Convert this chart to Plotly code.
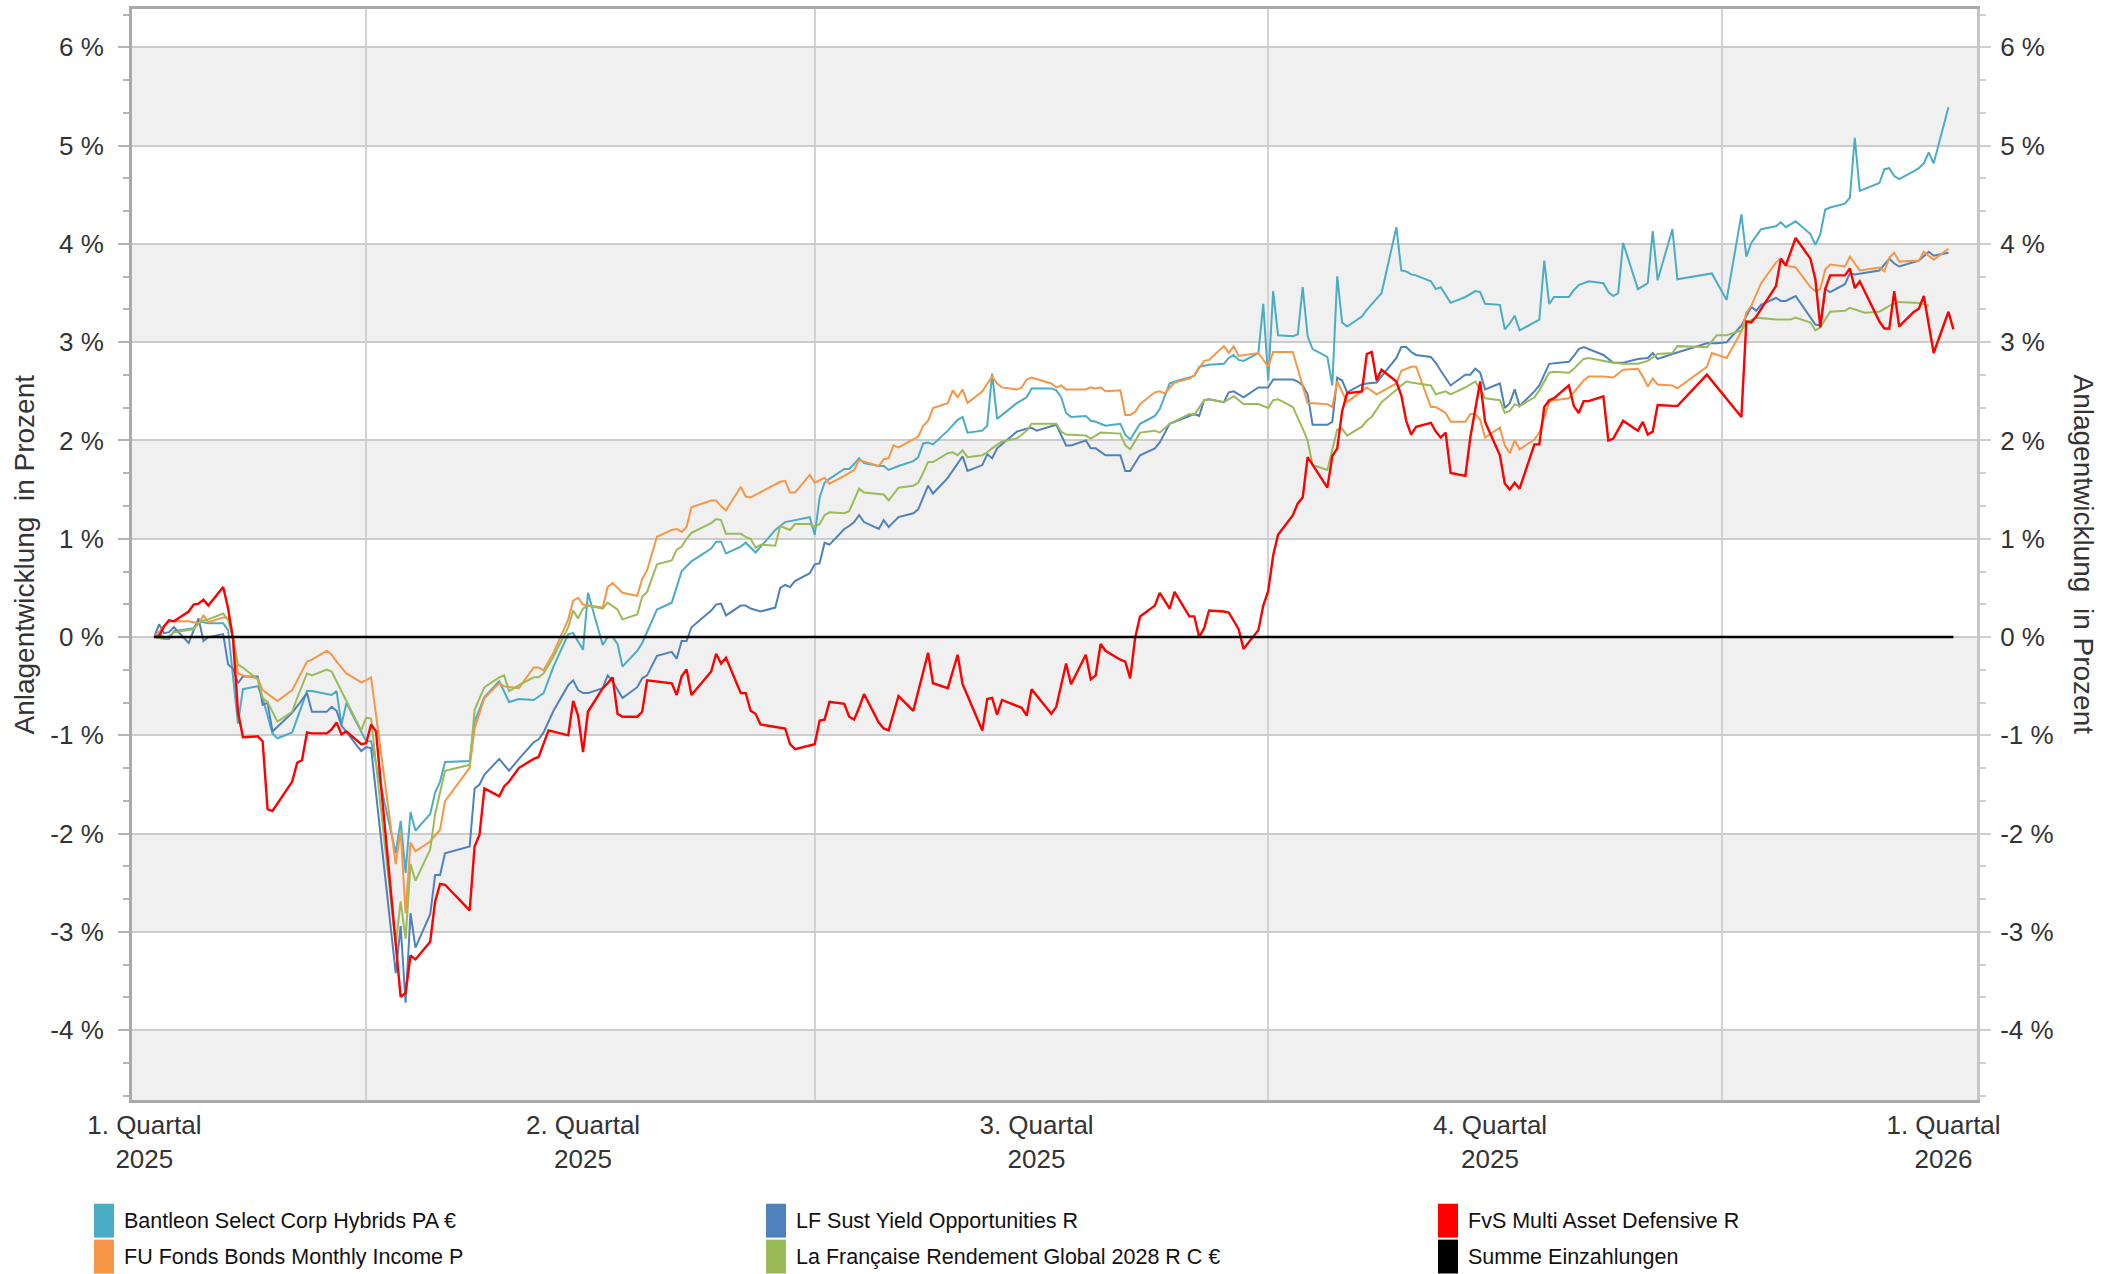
import plotly.graph_objects as go

# ---------------------------------------------------------------------------
# Performance since start (in %), one (date, value) pair per trading day shown
# ---------------------------------------------------------------------------
bantleon = [
    ("2025-02-17", 0.00), ("2025-02-18", 0.04), ("2025-02-19", -0.02), ("2025-02-20", -0.02),
    ("2025-02-21", 0.06), ("2025-02-25", 0.09), ("2025-02-26", 0.16), ("2025-02-27", 0.15),
    ("2025-02-28", 0.14), ("2025-03-03", 0.14), ("2025-03-04", 0.07), ("2025-03-06", -0.88),
    ("2025-03-07", -0.53), ("2025-03-10", -0.50), ("2025-03-11", -0.62), ("2025-03-13", -0.98),
    ("2025-03-14", -1.03), ("2025-03-17", -0.97), ("2025-03-20", -0.55), ("2025-03-21", -0.55),
    ("2025-03-25", -0.59), ("2025-03-26", -0.55), ("2025-03-27", -0.89), ("2025-03-28", -0.67),
    ("2025-03-31", -0.96), ("2025-04-01", -1.06), ("2025-04-02", -1.06), ("2025-04-07", -2.20),
    ("2025-04-08", -1.87), ("2025-04-09", -2.40), ("2025-04-10", -1.78), ("2025-04-11", -1.97),
    ("2025-04-14", -1.80), ("2025-04-15", -1.58), ("2025-04-16", -1.47), ("2025-04-17", -1.27),
    ("2025-04-22", -1.26), ("2025-04-23", -0.86), ("2025-04-25", -0.61), ("2025-04-28", -0.45),
    ("2025-04-30", -0.66), ("2025-05-02", -0.63), ("2025-05-05", -0.64), ("2025-05-07", -0.57),
    ("2025-05-09", -0.30), ("2025-05-12", 0.03), ("2025-05-13", 0.04), ("2025-05-15", -0.13),
    ("2025-05-16", 0.45), ("2025-05-19", -0.08), ("2025-05-20", 0.00), ("2025-05-21", 0.00),
    ("2025-05-22", -0.07), ("2025-05-23", -0.30), ("2025-05-26", -0.14), ("2025-05-27", -0.06),
    ("2025-05-30", 0.28), ("2025-06-02", 0.35), ("2025-06-04", 0.67), ("2025-06-06", 0.77),
    ("2025-06-10", 0.90), ("2025-06-11", 0.97), ("2025-06-12", 0.97), ("2025-06-13", 0.85),
    ("2025-06-16", 0.92), ("2025-06-17", 0.96), ("2025-06-19", 0.86), ("2025-06-20", 0.92),
    ("2025-06-23", 1.09), ("2025-06-25", 1.17), ("2025-06-27", 1.19), ("2025-06-30", 1.22),
    ("2025-07-01", 1.04), ("2025-07-02", 1.42), ("2025-07-03", 1.57), ("2025-07-04", 1.61),
    ("2025-07-07", 1.71), ("2025-07-08", 1.71), ("2025-07-09", 1.76), ("2025-07-10", 1.82),
    ("2025-07-11", 1.77), ("2025-07-14", 1.74), ("2025-07-15", 1.74), ("2025-07-16", 1.70),
    ("2025-07-18", 1.74), ("2025-07-21", 1.79), ("2025-07-22", 1.83), ("2025-07-23", 1.97),
    ("2025-07-24", 1.98), ("2025-07-25", 1.96), ("2025-07-28", 2.10), ("2025-07-30", 2.21),
    ("2025-07-31", 2.24), ("2025-08-01", 2.08), ("2025-08-04", 2.10), ("2025-08-05", 2.15),
    ("2025-08-06", 2.68), ("2025-08-07", 2.22), ("2025-08-11", 2.38), ("2025-08-13", 2.44),
    ("2025-08-14", 2.53), ("2025-08-18", 2.53), ("2025-08-19", 2.51), ("2025-08-20", 2.44),
    ("2025-08-21", 2.28), ("2025-08-22", 2.24), ("2025-08-25", 2.25), ("2025-08-26", 2.20),
    ("2025-08-27", 2.19), ("2025-08-28", 2.17), ("2025-08-29", 2.15), ("2025-09-01", 2.17),
    ("2025-09-02", 2.06), ("2025-09-03", 2.01), ("2025-09-05", 2.17), ("2025-09-08", 2.25),
    ("2025-09-09", 2.32), ("2025-09-11", 2.58), ("2025-09-12", 2.60), ("2025-09-15", 2.64),
    ("2025-09-16", 2.66), ("2025-09-17", 2.75), ("2025-09-19", 2.77), ("2025-09-22", 2.78),
    ("2025-09-23", 2.84), ("2025-09-24", 2.87), ("2025-09-25", 2.82), ("2025-09-26", 2.81),
    ("2025-09-29", 2.89), ("2025-09-30", 3.39), ("2025-10-01", 2.61), ("2025-10-02", 3.52),
    ("2025-10-03", 3.07), ("2025-10-06", 3.06), ("2025-10-07", 3.08), ("2025-10-08", 3.56),
    ("2025-10-09", 3.06), ("2025-10-10", 2.93), ("2025-10-13", 2.85), ("2025-10-14", 2.56),
    ("2025-10-15", 3.67), ("2025-10-16", 3.20), ("2025-10-17", 3.16), ("2025-10-20", 3.26),
    ("2025-10-21", 3.33), ("2025-10-24", 3.50), ("2025-10-27", 4.17), ("2025-10-28", 3.73),
    ("2025-10-29", 3.72), ("2025-10-30", 3.69), ("2025-10-31", 3.68), ("2025-11-03", 3.62),
    ("2025-11-04", 3.54), ("2025-11-05", 3.56), ("2025-11-07", 3.40), ("2025-11-10", 3.46),
    ("2025-11-11", 3.49), ("2025-11-12", 3.52), ("2025-11-13", 3.51), ("2025-11-14", 3.39),
    ("2025-11-17", 3.38), ("2025-11-18", 3.13), ("2025-11-19", 3.19), ("2025-11-20", 3.27),
    ("2025-11-21", 3.12), ("2025-11-25", 3.23), ("2025-11-26", 3.83), ("2025-11-27", 3.39),
    ("2025-11-28", 3.46), ("2025-12-01", 3.46), ("2025-12-02", 3.53), ("2025-12-03", 3.58),
    ("2025-12-05", 3.62), ("2025-12-08", 3.60), ("2025-12-09", 3.51), ("2025-12-10", 3.47),
    ("2025-12-11", 3.50), ("2025-12-12", 4.01), ("2025-12-15", 3.54), ("2025-12-17", 3.60),
    ("2025-12-18", 4.13), ("2025-12-19", 3.63), ("2025-12-22", 4.15), ("2025-12-23", 3.64),
    ("2025-12-30", 3.70), ("2026-01-02", 3.43), ("2026-01-05", 4.30), ("2026-01-06", 3.87),
    ("2026-01-07", 4.01), ("2026-01-09", 4.15), ("2026-01-12", 4.18), ("2026-01-13", 4.22),
    ("2026-01-14", 4.17), ("2026-01-16", 4.23), ("2026-01-19", 4.10), ("2026-01-20", 3.99),
    ("2026-01-21", 4.10), ("2026-01-22", 4.35), ("2026-01-23", 4.37), ("2026-01-26", 4.41),
    ("2026-01-27", 4.47), ("2026-01-28", 5.08), ("2026-01-29", 4.54), ("2026-02-02", 4.62),
    ("2026-02-03", 4.76), ("2026-02-04", 4.77), ("2026-02-05", 4.69), ("2026-02-06", 4.66),
    ("2026-02-09", 4.74), ("2026-02-10", 4.77), ("2026-02-11", 4.82), ("2026-02-12", 4.93),
    ("2026-02-13", 4.82), ("2026-02-16", 5.39),
]

lf_sust = [
    ("2025-02-17", 0.00), ("2025-02-18", 0.13), ("2025-02-19", 0.04), ("2025-02-20", 0.05),
    ("2025-02-21", 0.10), ("2025-02-24", -0.06), ("2025-02-26", 0.19), ("2025-02-27", -0.04),
    ("2025-02-28", 0.00), ("2025-03-03", 0.03), ("2025-03-04", -0.28), ("2025-03-05", -0.32),
    ("2025-03-06", -0.47), ("2025-03-07", -0.40), ("2025-03-10", -0.40), ("2025-03-11", -0.69),
    ("2025-03-12", -0.67), ("2025-03-13", -0.96), ("2025-03-17", -0.77), ("2025-03-20", -0.57),
    ("2025-03-21", -0.76), ("2025-03-24", -0.76), ("2025-03-25", -0.71), ("2025-03-26", -0.75),
    ("2025-03-27", -0.90), ("2025-03-31", -1.16), ("2025-04-01", -1.12), ("2025-04-02", -1.13),
    ("2025-04-07", -3.42), ("2025-04-08", -2.94), ("2025-04-09", -3.72), ("2025-04-10", -2.81),
    ("2025-04-11", -3.16), ("2025-04-14", -2.82), ("2025-04-15", -2.42), ("2025-04-16", -2.42),
    ("2025-04-17", -2.20), ("2025-04-22", -2.13), ("2025-04-23", -1.54), ("2025-04-24", -1.50),
    ("2025-04-25", -1.40), ("2025-04-28", -1.24), ("2025-04-29", -1.30), ("2025-04-30", -1.36),
    ("2025-05-02", -1.24), ("2025-05-05", -1.07), ("2025-05-06", -1.04), ("2025-05-07", -0.97),
    ("2025-05-09", -0.75), ("2025-05-12", -0.49), ("2025-05-13", -0.44), ("2025-05-14", -0.54),
    ("2025-05-15", -0.57), ("2025-05-16", -0.57), ("2025-05-19", -0.52), ("2025-05-20", -0.39),
    ("2025-05-21", -0.45), ("2025-05-23", -0.62), ("2025-05-26", -0.51), ("2025-05-27", -0.42),
    ("2025-05-28", -0.39), ("2025-05-30", -0.19), ("2025-06-02", -0.15), ("2025-06-03", -0.22),
    ("2025-06-04", -0.04), ("2025-06-05", -0.04), ("2025-06-06", 0.10), ("2025-06-10", 0.27),
    ("2025-06-11", 0.33), ("2025-06-12", 0.34), ("2025-06-13", 0.22), ("2025-06-16", 0.32),
    ("2025-06-17", 0.32), ("2025-06-18", 0.29), ("2025-06-20", 0.26), ("2025-06-23", 0.30),
    ("2025-06-24", 0.50), ("2025-06-25", 0.53), ("2025-06-26", 0.51), ("2025-06-27", 0.57),
    ("2025-06-30", 0.65), ("2025-07-01", 0.74), ("2025-07-02", 0.75), ("2025-07-03", 0.96),
    ("2025-07-04", 0.94), ("2025-07-07", 1.10), ("2025-07-08", 1.13), ("2025-07-09", 1.17),
    ("2025-07-10", 1.24), ("2025-07-11", 1.17), ("2025-07-14", 1.10), ("2025-07-15", 1.19),
    ("2025-07-16", 1.12), ("2025-07-18", 1.22), ("2025-07-21", 1.26), ("2025-07-22", 1.30),
    ("2025-07-24", 1.54), ("2025-07-25", 1.46), ("2025-07-28", 1.62), ("2025-07-31", 1.84),
    ("2025-08-01", 1.69), ("2025-08-04", 1.75), ("2025-08-05", 1.86), ("2025-08-06", 1.82),
    ("2025-08-07", 1.92), ("2025-08-11", 2.09), ("2025-08-13", 2.12), ("2025-08-14", 2.13),
    ("2025-08-15", 2.10), ("2025-08-19", 2.16), ("2025-08-21", 1.95), ("2025-08-22", 1.95),
    ("2025-08-25", 2.00), ("2025-08-26", 1.92), ("2025-08-27", 1.92), ("2025-08-29", 1.85),
    ("2025-09-01", 1.85), ("2025-09-02", 1.69), ("2025-09-03", 1.69), ("2025-09-05", 1.85),
    ("2025-09-08", 1.92), ("2025-09-09", 1.98), ("2025-09-11", 2.17), ("2025-09-12", 2.19),
    ("2025-09-16", 2.27), ("2025-09-17", 2.25), ("2025-09-18", 2.41), ("2025-09-19", 2.42),
    ("2025-09-22", 2.39), ("2025-09-23", 2.49), ("2025-09-24", 2.50), ("2025-09-26", 2.44),
    ("2025-09-29", 2.54), ("2025-10-01", 2.54), ("2025-10-02", 2.62), ("2025-10-06", 2.62),
    ("2025-10-07", 2.60), ("2025-10-08", 2.56), ("2025-10-09", 2.47), ("2025-10-10", 2.16),
    ("2025-10-13", 2.16), ("2025-10-14", 2.19), ("2025-10-15", 2.64), ("2025-10-16", 2.61),
    ("2025-10-17", 2.49), ("2025-10-20", 2.57), ("2025-10-21", 2.58), ("2025-10-23", 2.59),
    ("2025-10-27", 2.84), ("2025-10-28", 2.95), ("2025-10-29", 2.95), ("2025-10-30", 2.90),
    ("2025-10-31", 2.87), ("2025-11-03", 2.85), ("2025-11-04", 2.79), ("2025-11-05", 2.71),
    ("2025-11-07", 2.56), ("2025-11-10", 2.67), ("2025-11-11", 2.67), ("2025-11-12", 2.73),
    ("2025-11-13", 2.69), ("2025-11-14", 2.52), ("2025-11-17", 2.58), ("2025-11-18", 2.33),
    ("2025-11-19", 2.38), ("2025-11-20", 2.52), ("2025-11-21", 2.35), ("2025-11-24", 2.50),
    ("2025-11-25", 2.56), ("2025-11-27", 2.78), ("2025-12-01", 2.80), ("2025-12-02", 2.86),
    ("2025-12-03", 2.93), ("2025-12-04", 2.95), ("2025-12-08", 2.87), ("2025-12-10", 2.79),
    ("2025-12-12", 2.79), ("2025-12-15", 2.83), ("2025-12-17", 2.84), ("2025-12-18", 2.89),
    ("2025-12-19", 2.83), ("2025-12-22", 2.88), ("2025-12-29", 2.99), ("2025-12-31", 2.99),
    ("2026-01-02", 3.00), ("2026-01-05", 3.17), ("2026-01-07", 3.36), ("2026-01-08", 3.32),
    ("2026-01-09", 3.38), ("2026-01-12", 3.45), ("2026-01-13", 3.42), ("2026-01-14", 3.42),
    ("2026-01-16", 3.47), ("2026-01-20", 3.18), ("2026-01-21", 3.17), ("2026-01-22", 3.54),
    ("2026-01-23", 3.51), ("2026-01-26", 3.59), ("2026-01-27", 3.70), ("2026-01-28", 3.69),
    ("2026-02-02", 3.73), ("2026-02-04", 3.85), ("2026-02-05", 3.80), ("2026-02-06", 3.77),
    ("2026-02-10", 3.83), ("2026-02-12", 3.92), ("2026-02-13", 3.88), ("2026-02-16", 3.91),
]

fvs_defensive = [
    ("2025-02-17", 0.00), ("2025-02-18", 0.01), ("2025-02-19", 0.11), ("2025-02-20", 0.17),
    ("2025-02-21", 0.16), ("2025-02-24", 0.26), ("2025-02-25", 0.33), ("2025-02-26", 0.34),
    ("2025-02-27", 0.38), ("2025-02-28", 0.32), ("2025-03-03", 0.51), ("2025-03-04", 0.29),
    ("2025-03-05", -0.02), ("2025-03-06", -0.76), ("2025-03-07", -1.02), ("2025-03-10", -1.01),
    ("2025-03-11", -1.06), ("2025-03-12", -1.75), ("2025-03-13", -1.77), ("2025-03-17", -1.47),
    ("2025-03-18", -1.28), ("2025-03-19", -1.25), ("2025-03-20", -0.97), ("2025-03-21", -0.98),
    ("2025-03-24", -0.98), ("2025-03-25", -0.94), ("2025-03-26", -0.87), ("2025-03-27", -0.99),
    ("2025-03-28", -0.96), ("2025-03-31", -1.09), ("2025-04-01", -1.08), ("2025-04-02", -0.89),
    ("2025-04-03", -0.96), ("2025-04-08", -3.66), ("2025-04-09", -3.62), ("2025-04-10", -3.24),
    ("2025-04-11", -3.28), ("2025-04-14", -3.10), ("2025-04-15", -2.69), ("2025-04-16", -2.51),
    ("2025-04-17", -2.52), ("2025-04-22", -2.78), ("2025-04-23", -2.13), ("2025-04-24", -2.01),
    ("2025-04-25", -1.54), ("2025-04-28", -1.62), ("2025-04-29", -1.52), ("2025-04-30", -1.47),
    ("2025-05-02", -1.33), ("2025-05-05", -1.24), ("2025-05-06", -1.22), ("2025-05-08", -0.95),
    ("2025-05-12", -1.00), ("2025-05-13", -0.65), ("2025-05-14", -0.80), ("2025-05-15", -1.17),
    ("2025-05-16", -0.76), ("2025-05-19", -0.52), ("2025-05-20", -0.47), ("2025-05-21", -0.41),
    ("2025-05-22", -0.78), ("2025-05-23", -0.81), ("2025-05-26", -0.81), ("2025-05-27", -0.76),
    ("2025-05-28", -0.44), ("2025-06-02", -0.47), ("2025-06-03", -0.59), ("2025-06-04", -0.40),
    ("2025-06-05", -0.33), ("2025-06-06", -0.59), ("2025-06-10", -0.35), ("2025-06-11", -0.17),
    ("2025-06-12", -0.27), ("2025-06-13", -0.21), ("2025-06-16", -0.57), ("2025-06-17", -0.57),
    ("2025-06-18", -0.75), ("2025-06-19", -0.78), ("2025-06-20", -0.89), ("2025-06-25", -0.93),
    ("2025-06-26", -1.09), ("2025-06-27", -1.14), ("2025-07-01", -1.09), ("2025-07-02", -0.85),
    ("2025-07-03", -0.84), ("2025-07-04", -0.66), ("2025-07-07", -0.68), ("2025-07-08", -0.81),
    ("2025-07-09", -0.84), ("2025-07-10", -0.72), ("2025-07-11", -0.58), ("2025-07-14", -0.87),
    ("2025-07-15", -0.93), ("2025-07-16", -0.95), ("2025-07-18", -0.60), ("2025-07-21", -0.75),
    ("2025-07-24", -0.16), ("2025-07-25", -0.47), ("2025-07-28", -0.52), ("2025-07-30", -0.18),
    ("2025-07-31", -0.48), ("2025-08-04", -0.95), ("2025-08-05", -0.63), ("2025-08-06", -0.62),
    ("2025-08-07", -0.79), ("2025-08-08", -0.64), ("2025-08-12", -0.72), ("2025-08-13", -0.80),
    ("2025-08-14", -0.53), ("2025-08-18", -0.78), ("2025-08-19", -0.71), ("2025-08-21", -0.27),
    ("2025-08-22", -0.48), ("2025-08-25", -0.18), ("2025-08-26", -0.43), ("2025-08-27", -0.39),
    ("2025-08-28", -0.07), ("2025-08-29", -0.14), ("2025-09-01", -0.23), ("2025-09-02", -0.25),
    ("2025-09-03", -0.42), ("2025-09-04", -0.01), ("2025-09-05", 0.21), ("2025-09-08", 0.32),
    ("2025-09-09", 0.45), ("2025-09-11", 0.29), ("2025-09-12", 0.46), ("2025-09-15", 0.21),
    ("2025-09-16", 0.21), ("2025-09-17", 0.00), ("2025-09-18", 0.09), ("2025-09-19", 0.27),
    ("2025-09-22", 0.26), ("2025-09-23", 0.25), ("2025-09-25", 0.08), ("2025-09-26", -0.12),
    ("2025-09-29", 0.07), ("2025-09-30", 0.32), ("2025-10-01", 0.47), ("2025-10-02", 0.83),
    ("2025-10-03", 1.04), ("2025-10-06", 1.24), ("2025-10-07", 1.36), ("2025-10-08", 1.42),
    ("2025-10-09", 1.83), ("2025-10-13", 1.52), ("2025-10-14", 1.84), ("2025-10-15", 1.92),
    ("2025-10-16", 2.30), ("2025-10-17", 2.48), ("2025-10-20", 2.50), ("2025-10-21", 2.88),
    ("2025-10-22", 2.90), ("2025-10-23", 2.61), ("2025-10-24", 2.72), ("2025-10-27", 2.60),
    ("2025-10-28", 2.46), ("2025-10-29", 2.20), ("2025-10-30", 2.06), ("2025-10-31", 2.14),
    ("2025-11-03", 2.18), ("2025-11-04", 2.09), ("2025-11-05", 2.03), ("2025-11-06", 2.08),
    ("2025-11-07", 1.67), ("2025-11-10", 1.64), ("2025-11-11", 2.03), ("2025-11-13", 2.60),
    ("2025-11-14", 2.19), ("2025-11-17", 1.85), ("2025-11-18", 1.56), ("2025-11-19", 1.50),
    ("2025-11-20", 1.57), ("2025-11-21", 1.51), ("2025-11-24", 1.96), ("2025-11-25", 1.96),
    ("2025-11-26", 2.34), ("2025-11-27", 2.41), ("2025-11-28", 2.43), ("2025-12-01", 2.56),
    ("2025-12-02", 2.35), ("2025-12-03", 2.28), ("2025-12-04", 2.40), ("2025-12-05", 2.40),
    ("2025-12-08", 2.45), ("2025-12-09", 2.00), ("2025-12-10", 2.02), ("2025-12-12", 2.20),
    ("2025-12-15", 2.10), ("2025-12-16", 2.19), ("2025-12-17", 2.06), ("2025-12-18", 2.09),
    ("2025-12-19", 2.36), ("2025-12-23", 2.35), ("2025-12-29", 2.67), ("2026-01-05", 2.24),
    ("2026-01-06", 3.21), ("2026-01-07", 3.20), ("2026-01-08", 3.26), ("2026-01-12", 3.57),
    ("2026-01-13", 3.85), ("2026-01-14", 3.78), ("2026-01-16", 4.06), ("2026-01-19", 3.85),
    ("2026-01-20", 3.64), ("2026-01-21", 3.15), ("2026-01-22", 3.54), ("2026-01-23", 3.68),
    ("2026-01-26", 3.68), ("2026-01-27", 3.75), ("2026-01-28", 3.55), ("2026-01-29", 3.62),
    ("2026-02-02", 3.21), ("2026-02-03", 3.14), ("2026-02-04", 3.14), ("2026-02-05", 3.52),
    ("2026-02-06", 3.16), ("2026-02-09", 3.31), ("2026-02-10", 3.34), ("2026-02-11", 3.47),
    ("2026-02-13", 2.89), ("2026-02-16", 3.31), ("2026-02-17", 3.13),
]

fu_fonds = [
    ("2025-02-17", 0.00), ("2025-02-18", 0.05), ("2025-02-19", 0.11), ("2025-02-20", 0.16),
    ("2025-02-24", 0.16), ("2025-02-25", 0.15), ("2025-02-26", 0.14), ("2025-02-27", 0.22),
    ("2025-02-28", 0.15), ("2025-03-03", 0.20), ("2025-03-04", 0.20), ("2025-03-05", 0.00),
    ("2025-03-06", -0.37), ("2025-03-07", -0.39), ("2025-03-10", -0.42), ("2025-03-11", -0.54),
    ("2025-03-14", -0.65), ("2025-03-17", -0.54), ("2025-03-18", -0.44), ("2025-03-20", -0.25),
    ("2025-03-21", -0.23), ("2025-03-24", -0.14), ("2025-03-25", -0.18), ("2025-03-26", -0.25),
    ("2025-03-28", -0.37), ("2025-03-31", -0.46), ("2025-04-01", -0.44), ("2025-04-02", -0.41),
    ("2025-04-07", -2.31), ("2025-04-08", -1.97), ("2025-04-09", -2.81), ("2025-04-10", -2.09),
    ("2025-04-11", -2.18), ("2025-04-14", -2.08), ("2025-04-16", -1.96), ("2025-04-17", -1.67),
    ("2025-04-22", -1.33), ("2025-04-23", -0.93), ("2025-04-25", -0.62), ("2025-04-28", -0.47),
    ("2025-04-29", -0.50), ("2025-05-02", -0.52), ("2025-05-05", -0.31), ("2025-05-06", -0.31),
    ("2025-05-07", -0.34), ("2025-05-09", -0.16), ("2025-05-12", 0.18), ("2025-05-13", 0.37),
    ("2025-05-14", 0.40), ("2025-05-15", 0.33), ("2025-05-19", 0.30), ("2025-05-20", 0.51),
    ("2025-05-21", 0.55), ("2025-05-23", 0.45), ("2025-05-26", 0.42), ("2025-05-27", 0.59),
    ("2025-05-28", 0.68), ("2025-05-30", 1.02), ("2025-06-02", 1.09), ("2025-06-03", 1.10),
    ("2025-06-04", 1.07), ("2025-06-05", 1.12), ("2025-06-06", 1.32), ("2025-06-10", 1.39),
    ("2025-06-11", 1.39), ("2025-06-12", 1.33), ("2025-06-13", 1.29), ("2025-06-16", 1.53),
    ("2025-06-17", 1.43), ("2025-06-18", 1.42), ("2025-06-24", 1.58), ("2025-06-25", 1.59),
    ("2025-06-26", 1.47), ("2025-06-27", 1.47), ("2025-06-30", 1.65), ("2025-07-01", 1.57),
    ("2025-07-03", 1.62), ("2025-07-04", 1.56), ("2025-07-07", 1.64), ("2025-07-09", 1.70),
    ("2025-07-10", 1.80), ("2025-07-14", 1.74), ("2025-07-15", 1.81), ("2025-07-16", 1.82),
    ("2025-07-17", 1.95), ("2025-07-18", 1.93), ("2025-07-21", 2.01), ("2025-07-22", 2.04),
    ("2025-07-23", 2.15), ("2025-07-24", 2.20), ("2025-07-25", 2.33), ("2025-07-28", 2.38),
    ("2025-07-29", 2.51), ("2025-07-30", 2.44), ("2025-07-31", 2.52), ("2025-08-01", 2.38),
    ("2025-08-04", 2.50), ("2025-08-06", 2.65), ("2025-08-07", 2.58), ("2025-08-08", 2.54),
    ("2025-08-11", 2.52), ("2025-08-12", 2.54), ("2025-08-13", 2.62), ("2025-08-14", 2.64),
    ("2025-08-18", 2.58), ("2025-08-19", 2.54), ("2025-08-20", 2.56), ("2025-08-21", 2.52),
    ("2025-08-25", 2.52), ("2025-08-26", 2.54), ("2025-08-27", 2.53), ("2025-08-28", 2.54),
    ("2025-08-29", 2.50), ("2025-09-01", 2.51), ("2025-09-02", 2.26), ("2025-09-03", 2.26),
    ("2025-09-04", 2.29), ("2025-09-05", 2.37), ("2025-09-08", 2.49), ("2025-09-09", 2.50),
    ("2025-09-10", 2.48), ("2025-09-12", 2.59), ("2025-09-15", 2.63), ("2025-09-16", 2.66),
    ("2025-09-18", 2.81), ("2025-09-19", 2.82), ("2025-09-22", 2.96), ("2025-09-23", 2.89),
    ("2025-09-24", 2.96), ("2025-09-25", 2.86), ("2025-09-29", 2.89), ("2025-10-01", 2.75),
    ("2025-10-02", 2.90), ("2025-10-06", 2.90), ("2025-10-09", 2.38), ("2025-10-10", 2.38),
    ("2025-10-13", 2.37), ("2025-10-14", 2.34), ("2025-10-15", 2.60), ("2025-10-17", 2.39),
    ("2025-10-21", 2.54), ("2025-10-23", 2.47), ("2025-10-27", 2.58), ("2025-10-28", 2.71),
    ("2025-10-30", 2.75), ("2025-10-31", 2.75), ("2025-11-03", 2.34), ("2025-11-04", 2.34),
    ("2025-11-06", 2.28), ("2025-11-07", 2.19), ("2025-11-10", 2.19), ("2025-11-11", 2.27),
    ("2025-11-12", 2.27), ("2025-11-13", 2.21), ("2025-11-14", 2.03), ("2025-11-17", 2.13),
    ("2025-11-18", 1.95), ("2025-11-19", 1.87), ("2025-11-20", 2.00), ("2025-11-21", 1.91),
    ("2025-11-24", 2.01), ("2025-11-25", 2.08), ("2025-11-27", 2.39), ("2025-11-28", 2.41),
    ("2025-12-01", 2.43), ("2025-12-02", 2.49), ("2025-12-04", 2.61), ("2025-12-05", 2.65),
    ("2025-12-08", 2.65), ("2025-12-10", 2.64), ("2025-12-12", 2.72), ("2025-12-15", 2.73),
    ("2025-12-16", 2.65), ("2025-12-17", 2.55), ("2025-12-18", 2.63), ("2025-12-19", 2.57),
    ("2025-12-22", 2.56), ("2025-12-23", 2.53), ("2025-12-29", 2.75), ("2025-12-30", 2.89),
    ("2026-01-02", 2.84), ("2026-01-05", 3.11), ("2026-01-06", 3.30), ("2026-01-07", 3.37),
    ("2026-01-09", 3.60), ("2026-01-12", 3.81), ("2026-01-13", 3.85), ("2026-01-14", 3.78),
    ("2026-01-16", 3.76), ("2026-01-19", 3.56), ("2026-01-20", 3.52), ("2026-01-21", 3.54),
    ("2026-01-22", 3.74), ("2026-01-23", 3.79), ("2026-01-26", 3.77), ("2026-01-27", 3.87),
    ("2026-01-29", 3.73), ("2026-02-02", 3.76), ("2026-02-03", 3.72), ("2026-02-04", 3.86),
    ("2026-02-05", 3.91), ("2026-02-06", 3.82), ("2026-02-10", 3.83), ("2026-02-11", 3.92),
    ("2026-02-13", 3.84), ("2026-02-16", 3.95),
]

la_francaise = [
    ("2025-02-17", 0.00), ("2025-02-19", -0.02), ("2025-02-20", 0.01), ("2025-02-21", 0.05),
    ("2025-02-25", 0.08), ("2025-02-26", 0.14), ("2025-02-27", 0.17), ("2025-02-28", 0.18),
    ("2025-03-03", 0.24), ("2025-03-04", 0.17), ("2025-03-05", -0.01), ("2025-03-06", -0.28),
    ("2025-03-07", -0.31), ("2025-03-10", -0.43), ("2025-03-11", -0.62), ("2025-03-12", -0.66),
    ("2025-03-14", -0.86), ("2025-03-17", -0.76), ("2025-03-18", -0.62), ("2025-03-20", -0.37),
    ("2025-03-21", -0.39), ("2025-03-24", -0.33), ("2025-03-25", -0.35), ("2025-03-26", -0.45),
    ("2025-03-28", -0.66), ("2025-03-31", -0.95), ("2025-04-01", -0.82), ("2025-04-02", -0.83),
    ("2025-04-07", -3.13), ("2025-04-08", -2.69), ("2025-04-09", -3.07), ("2025-04-10", -2.31),
    ("2025-04-11", -2.48), ("2025-04-14", -2.16), ("2025-04-15", -1.80), ("2025-04-17", -1.36),
    ("2025-04-22", -1.30), ("2025-04-23", -0.74), ("2025-04-25", -0.51), ("2025-04-28", -0.41),
    ("2025-04-29", -0.39), ("2025-04-30", -0.55), ("2025-05-02", -0.49), ("2025-05-05", -0.41),
    ("2025-05-06", -0.41), ("2025-05-07", -0.37), ("2025-05-09", -0.20), ("2025-05-12", 0.10),
    ("2025-05-13", 0.27), ("2025-05-14", 0.19), ("2025-05-15", 0.29), ("2025-05-16", 0.32),
    ("2025-05-19", 0.29), ("2025-05-20", 0.35), ("2025-05-22", 0.28), ("2025-05-23", 0.18),
    ("2025-05-26", 0.23), ("2025-05-27", 0.41), ("2025-05-28", 0.46), ("2025-05-30", 0.74),
    ("2025-06-02", 0.78), ("2025-06-03", 0.89), ("2025-06-04", 0.92), ("2025-06-05", 1.00),
    ("2025-06-06", 1.06), ("2025-06-10", 1.16), ("2025-06-11", 1.20), ("2025-06-12", 1.19),
    ("2025-06-13", 1.05), ("2025-06-16", 1.05), ("2025-06-17", 1.02), ("2025-06-18", 1.00),
    ("2025-06-19", 0.91), ("2025-06-20", 0.94), ("2025-06-23", 0.93), ("2025-06-24", 1.13),
    ("2025-06-26", 1.09), ("2025-06-27", 1.15), ("2025-06-30", 1.15), ("2025-07-01", 1.12),
    ("2025-07-02", 1.15), ("2025-07-03", 1.24), ("2025-07-04", 1.27), ("2025-07-07", 1.26),
    ("2025-07-08", 1.28), ("2025-07-10", 1.51), ("2025-07-11", 1.47), ("2025-07-14", 1.45),
    ("2025-07-15", 1.45), ("2025-07-16", 1.39), ("2025-07-18", 1.52), ("2025-07-21", 1.54),
    ("2025-07-22", 1.57), ("2025-07-23", 1.67), ("2025-07-24", 1.78), ("2025-07-25", 1.78),
    ("2025-07-28", 1.87), ("2025-07-29", 1.88), ("2025-07-30", 1.85), ("2025-07-31", 1.90),
    ("2025-08-01", 1.83), ("2025-08-04", 1.85), ("2025-08-05", 1.88), ("2025-08-06", 1.92),
    ("2025-08-08", 1.99), ("2025-08-11", 2.02), ("2025-08-13", 2.10), ("2025-08-14", 2.17),
    ("2025-08-19", 2.17), ("2025-08-20", 2.09), ("2025-08-21", 2.06), ("2025-08-25", 2.05),
    ("2025-08-26", 2.02), ("2025-08-27", 2.05), ("2025-08-28", 2.08), ("2025-09-01", 2.07),
    ("2025-09-02", 1.95), ("2025-09-03", 1.91), ("2025-09-05", 2.08), ("2025-09-08", 2.10),
    ("2025-09-09", 2.08), ("2025-09-11", 2.17), ("2025-09-15", 2.27), ("2025-09-16", 2.26),
    ("2025-09-18", 2.41), ("2025-09-19", 2.42), ("2025-09-22", 2.39), ("2025-09-23", 2.42),
    ("2025-09-24", 2.45), ("2025-09-26", 2.37), ("2025-09-29", 2.37), ("2025-10-01", 2.33),
    ("2025-10-02", 2.41), ("2025-10-03", 2.42), ("2025-10-06", 2.34), ("2025-10-08", 2.12),
    ("2025-10-09", 2.00), ("2025-10-10", 1.75), ("2025-10-13", 1.70), ("2025-10-15", 2.11),
    ("2025-10-16", 2.12), ("2025-10-17", 2.05), ("2025-10-20", 2.14), ("2025-10-21", 2.20),
    ("2025-10-22", 2.24), ("2025-10-24", 2.39), ("2025-10-27", 2.52), ("2025-10-29", 2.60),
    ("2025-10-30", 2.59), ("2025-11-03", 2.56), ("2025-11-04", 2.47), ("2025-11-06", 2.50),
    ("2025-11-07", 2.47), ("2025-11-10", 2.54), ("2025-11-12", 2.60), ("2025-11-14", 2.43),
    ("2025-11-17", 2.41), ("2025-11-18", 2.28), ("2025-11-19", 2.30), ("2025-11-20", 2.37),
    ("2025-11-21", 2.35), ("2025-11-24", 2.44), ("2025-11-25", 2.51), ("2025-11-27", 2.69),
    ("2025-11-28", 2.70), ("2025-12-01", 2.69), ("2025-12-02", 2.73), ("2025-12-04", 2.83),
    ("2025-12-05", 2.84), ("2025-12-10", 2.79), ("2025-12-12", 2.78), ("2025-12-15", 2.78),
    ("2025-12-17", 2.81), ("2025-12-19", 2.88), ("2025-12-22", 2.89), ("2025-12-23", 2.96),
    ("2025-12-29", 2.95), ("2025-12-31", 3.07), ("2026-01-02", 3.07), ("2026-01-05", 3.12),
    ("2026-01-06", 3.20), ("2026-01-08", 3.25), ("2026-01-12", 3.23), ("2026-01-15", 3.23),
    ("2026-01-16", 3.25), ("2026-01-19", 3.20), ("2026-01-20", 3.12), ("2026-01-21", 3.15),
    ("2026-01-23", 3.31), ("2026-01-26", 3.32), ("2026-01-27", 3.35), ("2026-01-30", 3.30),
    ("2026-02-02", 3.31), ("2026-02-04", 3.37), ("2026-02-06", 3.41), ("2026-02-10", 3.40),
    ("2026-02-12", 3.37),
]

summe_einzahlungen = [("2025-02-17", 0.0), ("2026-02-17", 0.0)]

# axis labelling
y_tick_values = [-4, -3, -2, -1, 0, 1, 2, 3, 4, 5, 6]
y_tick_labels = ["-4 %", "-3 %", "-2 %", "-1 %", "0 %", "1 %", "2 %", "3 %", "4 %", "5 %", "6 %"]
quarter_centers = ["2025-02-15", "2025-05-15", "2025-08-15", "2025-11-15", "2026-02-15"]
quarter_labels = ["1. Quartal<br>2025", "2. Quartal<br>2025", "3. Quartal<br>2025",
                  "4. Quartal<br>2025", "1. Quartal<br>2026"]
quarter_starts = ["2025-04-01", "2025-07-01", "2025-10-01", "2026-01-01"]
axis_title = "Anlagentwicklung\u00a0 in Prozent"

# ---------------------------------------------------------------------------
# Figure geometry and styling
# ---------------------------------------------------------------------------
W, H = 2116, 1274
L, R, T, B = 132, 1977, 6, 1100          # plot area in page pixels
Y_MIN, Y_MAX = -4.71, 6.39
X_RANGE = ["2025-02-12 12:00", "2026-02-21 19:00"]
FONT = "Liberation Sans, Arial, Helvetica, sans-serif"
TEXT = "#333333"
TICK_SIZE = 26


def px_x(px):
    return (px - L) / (R - L)


def px_y(py):
    return (B - py) / (B - T)


series = [
    ("Bantleon Select Corp Hybrids PA €", bantleon, "#4bacc6", 2.0),
    ("LF Sust Yield Opportunities R", lf_sust, "#4f81bd", 2.0),
    ("FU Fonds Bonds Monthly Income P", fu_fonds, "#f79646", 2.0),
    ("La Française Rendement Global 2028 R C €", la_francaise, "#9bbb59", 2.0),
    ("FvS Multi Asset Defensive R", fvs_defensive, "#ff0000", 2.4),
    ("Summe Einzahlungen", summe_einzahlungen, "#000000", 2.6),
]

fig = go.Figure()
for name, pts, color, width in series:
    fig.add_trace(go.Scatter(
        x=[p[0] for p in pts], y=[p[1] for p in pts],
        mode="lines", name=name, showlegend=False,
        line=dict(color=color, width=width),
    ))

# invisible companion trace so the mirrored right-hand axis is drawn
fig.add_trace(go.Scatter(
    x=[p[0] for p in summe_einzahlungen], y=[p[1] for p in summe_einzahlungen],
    yaxis="y2", mode="lines", line=dict(width=0), showlegend=False, hoverinfo="skip",
))

# alternating horizontal bands
for lo in range(-5, 7, 2):
    y0, y1 = max(lo, Y_MIN), min(lo + 1, Y_MAX)
    if y1 > y0:
        fig.add_shape(type="rect", xref="paper", x0=0, x1=1, yref="y", y0=y0, y1=y1,
                      fillcolor="#f0f0f0", line=dict(width=0), layer="below")

y_common = dict(
    range=[Y_MIN, Y_MAX], tickmode="array", tickvals=y_tick_values, ticktext=y_tick_labels,
    ticks="outside", ticklen=11, tickwidth=2, zeroline=False,
    tickfont=dict(family=FONT, size=TICK_SIZE, color=TEXT), fixedrange=True,
)

fig.update_layout(
    width=W, height=H, autosize=False,
    margin=dict(l=L, r=W - R, t=T, b=H - B, pad=0),
    paper_bgcolor="white", plot_bgcolor="white",
    font=dict(family=FONT, color=TEXT),
    showlegend=False,
    xaxis=dict(
        type="date", range=X_RANGE, tickmode="array", tickvals=quarter_centers,
        ticktext=quarter_labels, ticks="", showgrid=False, zeroline=False,
        showline=True, linecolor="#aaaaaa", linewidth=3, mirror=True,
        tickfont=dict(family=FONT, size=TICK_SIZE, color=TEXT), ticklabelstandoff=0,
        minor=dict(tickmode="array", tickvals=quarter_starts, showgrid=True,
                   gridcolor="#d2d2d2", gridwidth=2, ticks=""),
        fixedrange=True,
    ),
    yaxis=dict(
        **y_common, side="left", showgrid=True, gridcolor="#cccccc", gridwidth=2,
        showline=True, linecolor="#aaaaaa", linewidth=3, tickcolor="#b4b4b4",
        ticklabelstandoff=9,
        minor=dict(tickmode="linear", tick0=0, dtick=1 / 3, ticks="outside", ticklen=6,
                   tickwidth=2, tickcolor="#b4b4b4", showgrid=False),
    ),
    yaxis2=dict(
        **y_common, side="right", overlaying="y", anchor="x", showgrid=False,
        showline=True, linecolor="#c6c6c6", linewidth=3, tickcolor="#cfcfcf",
        ticklabelstandoff=4,
        minor=dict(tickmode="linear", tick0=0, dtick=1 / 3, ticks="outside", ticklen=6,
                   tickwidth=2, tickcolor="#cfcfcf", showgrid=False),
    ),
)

# axis titles
fig.add_annotation(text=axis_title, xref="paper", yref="paper", x=px_x(24), y=0.5,
                   textangle=-90, showarrow=False, xanchor="center", yanchor="middle",
                   font=dict(family=FONT, size=28, color=TEXT))
fig.add_annotation(text=axis_title, xref="paper", yref="paper", x=px_x(2083), y=0.5,
                   textangle=90, showarrow=False, xanchor="center", yanchor="middle",
                   font=dict(family=FONT, size=28, color=TEXT))

# legend: three columns, two rows, tall colour swatches
legend_cols = [94, 766, 1438]
legend_rows = [(1204, 1238), (1240, 1274)]
legend_order = [
    ("Bantleon Select Corp Hybrids PA €", "#4bacc6"),
    ("LF Sust Yield Opportunities R", "#4f81bd"),
    ("FvS Multi Asset Defensive R", "#ff0000"),
    ("FU Fonds Bonds Monthly Income P", "#f79646"),
    ("La Française Rendement Global 2028 R C €", "#9bbb59"),
    ("Summe Einzahlungen", "#000000"),
]
for i, (label, color) in enumerate(legend_order):
    cx = legend_cols[i % 3]
    top, bot = legend_rows[i // 3]
    fig.add_shape(type="rect", xref="paper", yref="paper",
                  x0=px_x(cx), x1=px_x(cx + 20), y0=px_y(bot), y1=px_y(top),
                  fillcolor=color, line=dict(width=0), layer="above")
    fig.add_annotation(text=label, xref="paper", yref="paper",
                       x=px_x(cx + 28), y=px_y((top + bot) / 2),
                       xanchor="left", yanchor="middle", showarrow=False,
                       font=dict(family=FONT, size=21.5, color="#111111"))

fig.write_html("out.html", config={"displayModeBar": False})
